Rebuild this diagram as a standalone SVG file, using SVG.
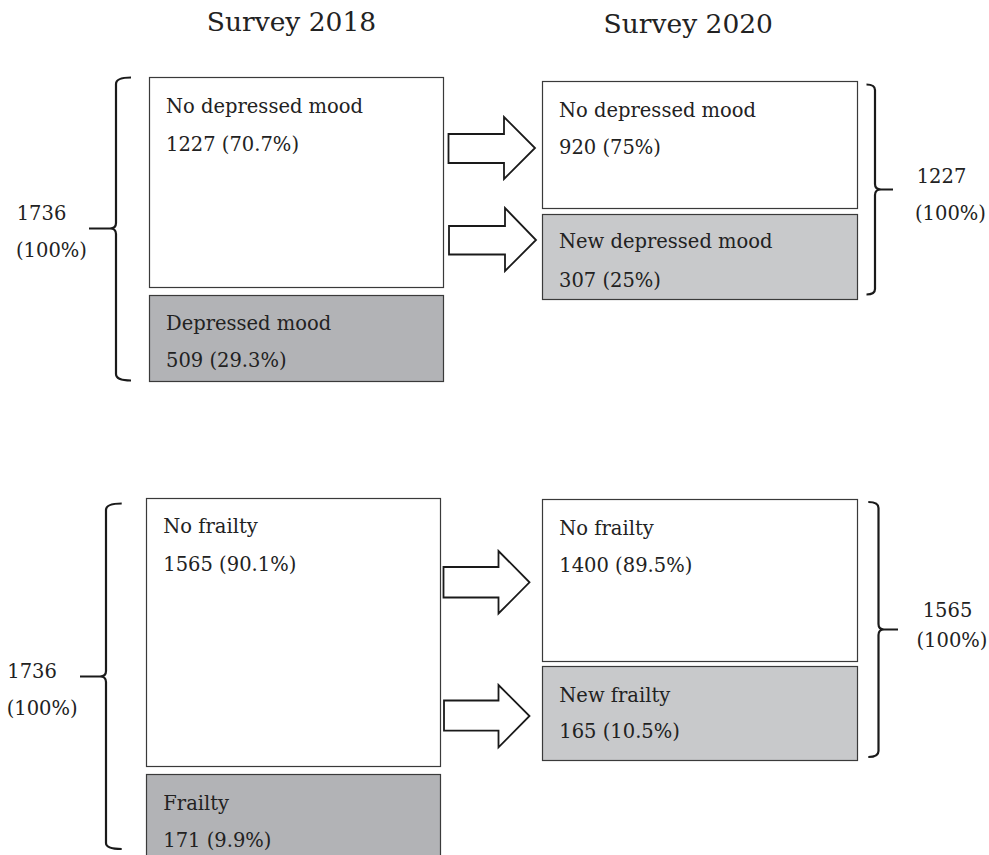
<svg xmlns="http://www.w3.org/2000/svg" width="989" height="855" viewBox="0 0 989 855">
<style>
text{font-family:"DejaVu Serif","Liberation Serif",serif;fill:#222;font-size:19.5px}
.title{font-size:26.5px;text-anchor:middle}
.box{stroke:#3a3a3a;stroke-width:1.2}
.white{fill:#fff}
.dark{fill:#b2b3b6}
.light{fill:#c8c9cb}
.arrow{fill:#fff;stroke:#1a1a1a;stroke-width:1.8;stroke-linejoin:miter}
.brace{fill:none;stroke:#1a1a1a;stroke-width:2.2}
</style>
<rect width="989" height="855" fill="#fff"/>
<text class="title" x="291.5" y="31">Survey 2018</text>
<text class="title" x="688.3" y="33.3">Survey 2020</text>

<g id="n2018_nodep">
<rect class="box white" x="149.5" y="77.5" width="294" height="210"/>
<text x="166" y="112.7">No depressed mood</text>
<text x="166" y="150.7">1227 (70.7%)</text>
</g>
<g id="n2018_dep">
<rect class="box dark" x="149.5" y="295.5" width="294" height="86"/>
<text x="166" y="330">Depressed mood</text>
<text x="166" y="367">509 (29.3%)</text>
</g>
<g id="n2020_nodep">
<rect class="box white" x="542.5" y="81.5" width="315" height="127"/>
<text x="559" y="116.7">No depressed mood</text>
<text x="559" y="154">920 (75%)</text>
</g>
<g id="n2020_newdep">
<rect class="box light" x="542.5" y="214.5" width="315" height="85"/>
<text x="559" y="248.3">New depressed mood</text>
<text x="559" y="286.7">307 (25%)</text>
</g>

<g id="n2018_nofrail">
<rect class="box white" x="146.5" y="498.5" width="294" height="268"/>
<text x="163.3" y="533.3">No frailty</text>
<text x="163.3" y="571">1565 (90.1%)</text>
</g>
<g id="n2018_frail">
<rect class="box dark" x="146.5" y="774.5" width="294" height="90"/>
<text x="163.3" y="810">Frailty</text>
<text x="163.3" y="846.7">171 (9.9%)</text>
</g>
<g id="n2020_nofrail">
<rect class="box white" x="542.5" y="499.5" width="315" height="162"/>
<text x="559.3" y="535">No frailty</text>
<text x="559.3" y="571.7">1400 (89.5%)</text>
</g>
<g id="n2020_newfrail">
<rect class="box light" x="542.5" y="666.5" width="315" height="94"/>
<text x="559.3" y="701.7">New frailty</text>
<text x="559.3" y="738.3">165 (10.5%)</text>
</g>

<g id="totals">
<text x="16.7" y="220">1736</text>
<text x="16" y="256.5">(100%)</text>
<text x="916.7" y="183.3">1227</text>
<text x="915" y="220">(100%)</text>
<text x="7.3" y="677.7">1736</text>
<text x="6.7" y="715">(100%)</text>
<text x="922.7" y="616.7">1565</text>
<text x="916.5" y="647">(100%)</text>
</g>

<g id="connectors">
<polygon class="arrow" points="448.5,134 504,134 504,117 535,148 504,179 504,163 448.5,163"/>
<polygon class="arrow" points="449,226 505,226 505,208 536,240 505,271 505,254.5 449,254.5"/>
<polygon class="arrow" points="443.5,567 498.5,567 498.5,551 529.5,582.3 498.5,613.5 498.5,597.5 443.5,597.5"/>
<polygon class="arrow" points="444,700.5 498.5,700.5 498.5,685 529.5,716 498.5,747.3 498.5,730.7 444,730.7"/>
<path class="brace" d="M131,77.5 Q116,77.5 116,84 V223 Q116,228.5 110,228.5 H89 M110,228.5 Q116,228.5 116,234 V374 Q116,380.5 131,380.5"/>
<path class="brace" d="M866.5,84.5 Q875,84.5 875,90 V184 Q875,189.5 881,189.5 H893 M881,189.5 Q875,189.5 875,195 V289 Q875,294.5 866.5,294.5"/>
<path class="brace" d="M121.7,503.5 Q106,503.5 106,510 V671 Q106,676.5 100,676.5 H80 M100,676.5 Q106,676.5 106,682 V843 Q106,849 121.7,849"/>
<path class="brace" d="M868.3,502 Q878.5,502 878.5,508 V624 Q878.5,629.5 884,629.5 H898 M884,629.5 Q878.5,629.5 878.5,635 V751 Q878.5,757 868.3,757"/>
</g>
</svg>
